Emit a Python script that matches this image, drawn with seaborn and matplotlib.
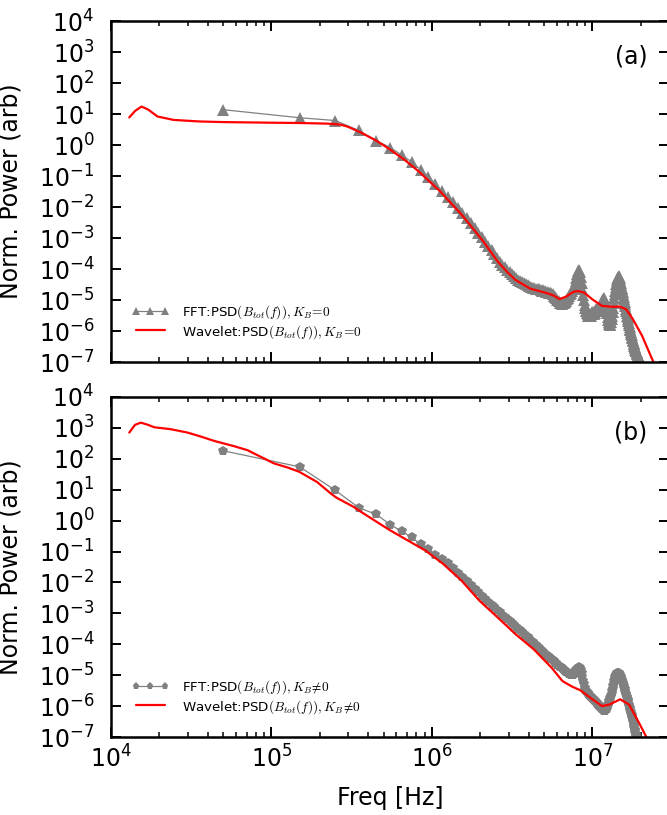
import numpy as np
import matplotlib
matplotlib.use("Agg")
import matplotlib.pyplot as plt
import seaborn as sns
from matplotlib.ticker import LogLocator, NullLocator, LogFormatterMathtext, NullFormatter

# ---------------------------------------------------------------------------
# Data (log10 of the normalised power)
# ---------------------------------------------------------------------------
# FFT bins: spacing 100 kHz, first bin at 50 kHz
fft_bin_width = 1e5

# Panel (a): K_B = 0
fft_a_log = [
    1.14, 0.88, 0.79, 0.47, 0.14, -0.08, -0.33, -0.55, -0.80, -1.02,
    -1.25, -1.48, -1.68, -1.85, -2.03, -2.20, -2.36, -2.52, -2.68, -2.84,
    -2.98, -3.12, -3.26, -3.39, -3.52, -3.64, -3.76, -3.86, -3.95, -4.03,
    -4.10, -4.17, -4.24, -4.30, -4.34, -4.38, -4.42, -4.45, -4.48, -4.52,
    -4.55, -4.58, -4.62, -4.60, -4.65, -4.66, -4.64, -4.68, -4.70, -4.69,
    -4.72, -4.74, -4.73, -4.76, -4.78, -4.77, -4.82, -4.86, -4.90, -4.95,
    -5.00, -5.04, -5.08, -5.10, -5.12, -5.10, -5.08, -5.05, -5.02, -4.98,
    -4.93, -4.88, -4.82, -4.78, -4.72, -4.66, -4.58, -4.50, -4.40, -4.28,
    -4.15, -4.05, -4.02, -4.10, -4.25, -4.45, -4.65, -4.85, -5.00, -5.15,
    -5.25, -5.35, -5.42, -5.45, -5.50, -5.48, -5.52, -5.45, -5.50, -5.40,
    -5.44, -5.38, -5.45, -5.35, -5.42, -5.30, -5.36, -5.28, -5.33, -5.25,
    -5.30, -5.22, -5.18, -5.12, -5.08, -5.03, -4.98, -4.95, -4.97, -5.02,
    -5.10, -5.20, -5.30, -5.42, -5.55, -5.65, -5.72, -5.78, -5.80, -5.76,
    -5.70, -5.62, -5.52, -5.40, -5.25, -5.10, -4.95, -4.82, -4.70, -4.58,
    -4.48, -4.40, -4.33, -4.28, -4.25, -4.24, -4.26, -4.30, -4.36, -4.42,
    -4.45, -4.52, -4.60, -4.66, -4.74, -4.82, -4.90, -4.98, -5.05, -5.12,
    -5.20, -5.28, -5.35, -5.42, -5.50, -5.56, -5.62, -5.68, -5.74, -5.80,
    -5.86, -5.92, -5.97, -6.02, -6.08, -6.13, -6.18, -6.23, -6.28, -6.33,
    -6.38, -6.43, -6.48, -6.52, -6.56, -6.60, -6.63, -6.66, -6.69, -6.72,
    -6.75, -6.78, -6.80, -6.83, -6.86, -6.89, -6.92, -6.96, -7.00, -7.05,
    -7.10, -7.20, -7.30,
]
wav_a_logf = [
    4.114, 4.15, 4.19, 4.23, 4.29, 4.39, 4.55, 4.70, 5.00, 5.18,
    5.35, 5.43, 5.476, 5.515, 5.555, 5.65, 5.735, 5.83, 5.915, 6.05,
    6.184, 6.32, 6.41, 6.47, 6.52, 6.611, 6.724, 6.76, 6.795, 6.84,
    6.88, 6.909, 6.948, 7.00, 7.06, 7.128, 7.17, 7.21, 7.25, 7.308,
    7.385, 7.42,
]
wav_a_log = [
    0.89, 1.10, 1.24, 1.15, 0.92, 0.81, 0.76, 0.74, 0.72, 0.71,
    0.69, 0.66, 0.59, 0.50, 0.41, 0.15, -0.13, -0.48, -0.84, -1.49,
    -2.24, -3.11, -3.76, -4.10, -4.35, -4.63, -4.79, -4.86, -4.97, -4.88,
    -4.74, -4.71, -4.76, -4.98, -5.19, -5.22, -5.21, -5.30, -5.60, -6.14,
    -7.06, -7.50,
]

# Panel (b): K_B != 0
fft_b_log = [
    2.26, 1.74, 0.98, 0.42, 0.20, -0.13, -0.35, -0.54, -0.77, -0.91,
    -1.10, -1.24, -1.38, -1.52, -1.68, -1.82, -1.96, -2.08, -2.20, -2.32,
    -2.43, -2.53, -2.62, -2.72, -2.80, -2.88, -2.96, -3.04, -3.11, -3.18,
    -3.24, -3.31, -3.37, -3.44, -3.50, -3.55, -3.61, -3.67, -3.72, -3.78,
    -3.83, -3.88, -3.93, -3.98, -4.03, -4.08, -4.12, -4.17, -4.21, -4.26,
    -4.30, -4.34, -4.38, -4.41, -4.45, -4.48, -4.52, -4.55, -4.59, -4.62,
    -4.66, -4.69, -4.72, -4.75, -4.78, -4.81, -4.84, -4.86, -4.89, -4.91,
    -4.93, -4.95, -4.97, -4.99, -5.00, -4.98, -4.95, -4.92, -4.88, -4.84,
    -4.80, -4.76, -4.74, -4.76, -4.82, -4.92, -5.05, -5.18, -5.30, -5.40,
    -5.48, -5.52, -5.56, -5.58, -5.62, -5.64, -5.66, -5.70, -5.72, -5.74,
    -5.76, -5.78, -5.80, -5.82, -5.85, -5.88, -5.90, -5.92, -5.95, -5.97,
    -6.00, -6.02, -6.04, -6.06, -6.08, -6.10, -6.12, -6.13, -6.15, -6.15,
    -6.12, -6.10, -6.08, -6.04, -6.00, -5.95, -5.90, -5.85, -5.80, -5.74,
    -5.68, -5.60, -5.52, -5.44, -5.36, -5.28, -5.20, -5.13, -5.07, -5.02,
    -4.98, -4.95, -4.93, -4.92, -4.92, -4.93, -4.95, -4.98, -5.02, -5.04,
    -5.05, -5.10, -5.15, -5.20, -5.25, -5.30, -5.35, -5.40, -5.45, -5.50,
    -5.55, -5.60, -5.65, -5.70, -5.75, -5.80, -5.85, -5.90, -5.95, -6.00,
    -6.05, -6.10, -6.15, -6.20, -6.25, -6.30, -6.35, -6.40, -6.46, -6.52,
    -6.58, -6.64, -6.70, -6.76, -6.82, -6.88, -6.94, -7.00, -7.06, -7.12,
    -7.18, -7.25,
]
wav_b_logf = [
    4.114, 4.15, 4.186, 4.23, 4.27, 4.37, 4.476, 4.56, 4.642, 4.766,
    4.85, 5.016, 5.10, 5.173, 5.284, 5.374, 5.406, 5.51, 5.553, 5.735,
    5.96, 6.07, 6.184, 6.296, 6.409, 6.52, 6.634, 6.746, 6.813, 6.87,
    6.925, 7.00, 7.06, 7.106, 7.173, 7.228, 7.285, 7.341, 7.37,
]
wav_b_log = [
    2.85, 3.10, 3.17, 3.10, 3.02, 2.96, 2.85, 2.72, 2.58, 2.41,
    2.28, 1.85, 1.72, 1.58, 1.25, 0.86, 0.74, 0.45, 0.30, -0.30,
    -0.97, -1.40, -1.94, -2.59, -3.13, -3.67, -4.16, -4.76, -5.19, -5.36,
    -5.49, -5.78, -6.00, -5.95, -5.78, -5.95, -6.49, -7.05, -7.40,
]

panel_tags = ["(a)", "(b)"]
fft_labels = [r"FFT:PSD$(B_{tot}(f)),K_B\!=\!0$",
              r"FFT:PSD$(B_{tot}(f)),K_B\!\neq\!0$"]
wav_labels = [r"Wavelet:PSD$(B_{tot}(f)),K_B\!=\!0$",
              r"Wavelet:PSD$(B_{tot}(f)),K_B\!\neq\!0$"]
fft_markers = ["^", "p"]
fft_msize = [8.5, 7.5]

# ---------------------------------------------------------------------------
sns.set_style("ticks")
plt.rcParams.update({
    "font.family": ["DejaVu Sans"],
    "mathtext.fontset": "cm",
    "axes.unicode_minus": False,
    "text.color": "black",
    "axes.labelcolor": "black",
    "axes.edgecolor": "black",
    "xtick.color": "black",
    "ytick.color": "black",
})

fig = plt.figure(figsize=(6.67, 8.15), dpi=100)
ax_a = fig.add_axes([0.1664, 0.5558, 0.8366, 0.4184])
ax_b = fig.add_axes([0.1664, 0.0957, 0.8366, 0.4172])
axes = [ax_a, ax_b]

fft_sets = [fft_a_log, fft_b_log]
wav_sets = [(wav_a_logf, wav_a_log), (wav_b_logf, wav_b_log)]

for i, ax in enumerate(axes):
    fft_log = np.array(fft_sets[i])
    fft_freq = (np.arange(len(fft_log)) + 0.5) * fft_bin_width
    sns.lineplot(x=fft_freq, y=10.0 ** fft_log, ax=ax, color="#808080",
                 lw=0.9, marker=fft_markers[i], markersize=fft_msize[i],
                 markeredgewidth=0, sort=False, estimator=None,
                 label=fft_labels[i])
    wf, wp = wav_sets[i]
    sns.lineplot(x=10.0 ** np.array(wf), y=10.0 ** np.array(wp), ax=ax,
                 color="red", lw=1.6, sort=False, estimator=None,
                 label=wav_labels[i])

    ax.set_xscale("log")
    ax.set_yscale("log")
    ax.set_xlim(1e4, 3e7)
    ax.set_ylim(1e-7, 1e4)

    ax.yaxis.set_major_locator(LogLocator(base=10, numticks=30))
    ax.yaxis.set_minor_locator(NullLocator())
    ax.yaxis.set_major_formatter(LogFormatterMathtext())
    ax.xaxis.set_major_locator(LogLocator(base=10, numticks=30))
    ax.xaxis.set_minor_locator(LogLocator(base=10, subs=np.arange(2, 10), numticks=30))
    ax.xaxis.set_minor_formatter(NullFormatter())

    ax.tick_params(which="both", direction="in", top=True, right=True,
                   color="black", labelcolor="black")
    ax.tick_params(which="major", length=7, width=1.4, labelsize=17)
    ax.tick_params(which="minor", length=3.5, width=1.1)
    ax.tick_params(axis="y", which="major", pad=12)
    ax.tick_params(axis="x", which="major", pad=6)
    for sp in ax.spines.values():
        sp.set_linewidth(1.8)
        sp.set_color("black")

    ax.set_ylabel("Norm. Power (arb)", fontsize=17, color="black")
    ax.yaxis.set_label_coords(-0.158, 0.5)

    ax.text(0.961, 0.897, panel_tags[i], transform=ax.transAxes,
            ha="right", va="center", fontsize=17, color="black")

    ax.legend(loc="lower left", bbox_to_anchor=(0.013, 0.024),
              frameon=False, fontsize=9.6, numpoints=3,
              markerscale=0.7, handlelength=2.8, handletextpad=1.0,
              borderaxespad=0.4, borderpad=0.6, labelspacing=0.15)

ax_a.tick_params(axis="x", which="both", labelbottom=False)
ax_a.set_xlabel("")
ax_b.set_xlabel("Freq [Hz]", fontsize=17, color="black")
ax_b.xaxis.set_label_coords(0.5, -0.145)

fig.savefig("out.png", dpi=100)
